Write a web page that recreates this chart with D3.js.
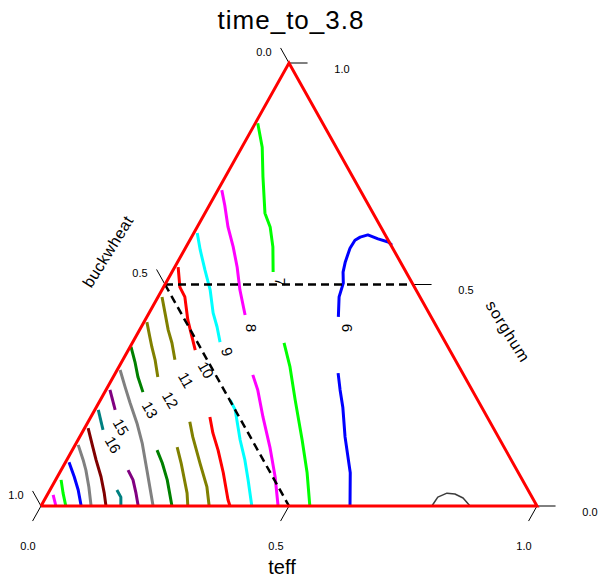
<!DOCTYPE html>
<html>
<head>
<meta charset="utf-8">
<script src="https://cdn.jsdelivr.net/npm/d3@7/dist/d3.min.js"></script>
<style>
  body { margin: 0; background: #fff; }
  text { font-family: "Liberation Sans", Arial, sans-serif; fill: #000; }
</style>
</head>
<body>
<svg id="chart" width="603" height="577"></svg>
<script>
// compositions are [teff, sorghum]; buckwheat = 1 - teff - sorghum
let axisTicks = [0, 0.5, 1];
let tickLabels = ["0.0", "0.5", "1.0"];

let contourColors = ["#3c3c3c", "#0000ff", "#00ff00", "#ff00ff", "#00ffff", "#ff0000",
  "#808000", "#808000", "#008000", "#808080", "#800080", "#008080", "#800000",
  "#808080", "#0000ff", "#00ff00", "#ff00ff"];

// each contour is a list of segments (gaps where labels sit)
let contourPaths = [
  [[[0.788, 0], [0.790, 0.020], [0.804, 0.029], [0.821, 0.027], [0.842, 0.018], [0.865, 0]]],
  [[[0.413, 0.589], [0.402, 0.596], [0.378, 0.603], [0.353, 0.612], [0.340, 0.607], [0.333, 0.600],
    [0.332, 0.582], [0.338, 0.551], [0.345, 0.528], [0.358, 0.503], [0.365, 0.472], [0.386, 0.427]],
   [[0.449, 0.300], [0.472, 0.262], [0.497, 0.223], [0.535, 0.156], [0.586, 0.075], [0.623, 0]]],
  [[[0.005, 0.864], [0.041, 0.810], [0.076, 0.743], [0.121, 0.661], [0.147, 0.630], [0.175, 0.585], [0.204, 0.528]],
   [[0.306, 0.368], [0.345, 0.314], [0.393, 0.239], [0.452, 0.149], [0.499, 0.075], [0.542, 0]]],
  [[[0.008, 0.713], [0.031, 0.679], [0.062, 0.630], [0.095, 0.585], [0.126, 0.539], [0.157, 0.488], [0.196, 0.431]],
   [[0.279, 0.296], [0.306, 0.262], [0.347, 0.201], [0.395, 0.133], [0.439, 0.066], [0.478, 0]]],
  [[[0.007, 0.616], [0.032, 0.578], [0.064, 0.533], [0.097, 0.488], [0.129, 0.436], [0.153, 0.404], [0.176, 0.370]],
   [[0.262, 0.239], [0.283, 0.217], [0.327, 0.149], [0.359, 0.104], [0.388, 0.059], [0.425, 0]]],
  [[[0.007, 0.539], [0.033, 0.494], [0.054, 0.472], [0.086, 0.420], [0.114, 0.381], [0.135, 0.352]],
   [[0.240, 0.201], [0.264, 0.165], [0.294, 0.126], [0.330, 0.075], [0.370, 0.014], [0.381, 0]]],
  [[[0.008, 0.472], [0.032, 0.436], [0.058, 0.397], [0.080, 0.368], [0.105, 0.330]],
   [[0.205, 0.190], [0.228, 0.156], [0.272, 0.097], [0.313, 0.043], [0.339, 0]]],
  [[[0.006, 0.415], [0.029, 0.381], [0.044, 0.359], [0.065, 0.330], [0.090, 0.291]],
   [[0.208, 0.133], [0.234, 0.097], [0.255, 0.066], [0.280, 0.029], [0.296, 0]]],
  [[[0.002, 0.359], [0.027, 0.325], [0.050, 0.291], [0.077, 0.257]],
   [[0.171, 0.126], [0.196, 0.097], [0.225, 0.059], [0.264, 0]]],
  [[[0.006, 0.307], [0.035, 0.269], [0.063, 0.233], [0.100, 0.187], [0.133, 0.142], [0.173, 0.081], [0.226, 0]]],
  [[[0.008, 0.262], [0.041, 0.217]],
   [[0.135, 0.081], [0.156, 0.059], [0.177, 0.029], [0.196, 0]]],
  [[[0.007, 0.217], [0.039, 0.172]],
   [[0.135, 0.036], [0.151, 0.020], [0.161, 0]]],
  [[[0.007, 0.176], [0.038, 0.133], [0.059, 0.104], [0.088, 0.066], [0.113, 0.029], [0.131, 0]]],
  [[[0.006, 0.138], [0.033, 0.104], [0.050, 0.081], [0.075, 0.043], [0.101, 0]]],
  [[[0.007, 0.099], [0.034, 0.066], [0.057, 0.036], [0.081, 0]]],
  [[[0.011, 0.059], [0.030, 0.029], [0.050, 0]]],
  [[[0.012, 0.025], [0.030, 0]]]
];

let labelValues = [6, 7, 8, 9, 10, 11, 12, 13, 15, 16];
let labelPoints = [[0.416, 0.402], [0.229, 0.506], [0.222, 0.402], [0.201, 0.348], [0.179, 0.307],
  [0.150, 0.284], [0.141, 0.239], [0.111, 0.217], [0.072, 0.178], [0.076, 0.138]];

let svg = d3.select("#chart");

let x = d3.scaleLinear().domain([0, 1]).range([41, 537]);
let y = d3.scaleLinear().domain([0, 1]).range([506, 63]);

// ternary -> plane
function px(d) { return x(d[0] + d[1] / 2); }
function py(d) { return y(d[1]); }
let line = d3.line().x(px).y(py);

// title
svg.append("text")
  .attr("x", x(0.5) + 2).attr("y", 29)
  .attr("text-anchor", "middle")
  .attr("font-size", 26)
  .attr("letter-spacing", 1)
  .text("time_to_3.8");

// contours
contourPaths.forEach(function (segs, i) {
  segs.forEach(function (seg) {
    svg.append("path")
      .attr("d", line(seg))
      .attr("fill", "none")
      .attr("stroke", contourColors[i])
      .attr("stroke-width", i === 0 ? 1.5 : 3)
      .attr("stroke-linejoin", "round");
  });
});

// contour labels
function labelAngle(v) { return v <= 8 ? 90 : (v === 9 ? 72 : 60); }
svg.append("g").selectAll("text")
  .data(labelValues)
  .join("text")
  .attr("transform", function (d, i) {
    let p = labelPoints[i];
    return "translate(" + px(p) + "," + py(p) + ") rotate(" + labelAngle(d) + ")";
  })
  .attr("text-anchor", "middle")
  .attr("dy", "0.35em")
  .attr("font-size", 15)
  .text(function (d) { return d; });

// dashed 0.5 guides: sorghum = 0.5 and buckwheat = 0.5
svg.append("path")
  .attr("d", line([[0, 0.5], [0.5, 0.5]]))
  .attr("stroke", "#000").attr("stroke-width", 2.5)
  .attr("stroke-dasharray", "8,5").attr("fill", "none");
svg.append("path")
  .attr("d", line([[0, 0.5], [0.5, 0]]))
  .attr("stroke", "#000").attr("stroke-width", 2.5)
  .attr("stroke-dasharray", "8,5").attr("fill", "none");

// ticks
let tickLen = 0.034;
let ticks = svg.append("g").attr("stroke", "#000").attr("stroke-width", 1);
axisTicks.forEach(function (v, i) {
  // teff along bottom
  let a = [v, 0];
  ticks.append("path").attr("d", line([a, [v, -tickLen]]));
  svg.append("text")
    .attr("x", px(a) - 13).attr("y", py(a) + 40)
    .attr("text-anchor", "middle").attr("dy", "0.35em")
    .attr("font-size", 11).text(tickLabels[i]);

  // sorghum along right side
  let b = [1 - v, v];
  ticks.append("path").attr("d", line([b, [1 - v + tickLen * 1.1, v]]));
  svg.append("text")
    .attr("x", px(b) + 53).attr("y", py(b) + 6)
    .attr("text-anchor", "middle").attr("dy", "0.35em")
    .attr("font-size", 11).text(tickLabels[i]);

  // buckwheat along left side (0 at top)
  let c = [0, 1 - v];
  ticks.append("path").attr("d", line([c, [-tickLen, 1 - v + tickLen]]));
  svg.append("text")
    .attr("x", px(c) - 25).attr("y", py(c) - 11)
    .attr("text-anchor", "middle").attr("dy", "0.35em")
    .attr("font-size", 11).text(tickLabels[i]);
});

// triangle frame
svg.append("path")
  .attr("d", line([[0, 0], [1, 0], [0, 1], [0, 0]]))
  .attr("fill", "none")
  .attr("stroke", "#ff0000")
  .attr("stroke-width", 3)
  .attr("stroke-linejoin", "miter");

// axis titles
svg.append("text")
  .attr("x", x(0.5) - 7).attr("y", y(0) + 61)
  .attr("text-anchor", "middle").attr("dy", "0.35em")
  .attr("font-size", 20).text("teff");

let lm = [0, 0.5], rm = [0.5, 0.5];
svg.append("text")
  .attr("transform", "translate(" + (px(lm) - 57) + "," + (py(lm) - 33) + ") rotate(-58)")
  .attr("text-anchor", "middle").attr("dy", "0.35em")
  .attr("font-size", 16).attr("letter-spacing", 0.5).text("buckwheat");
svg.append("text")
  .attr("transform", "translate(" + (px(rm) + 95) + "," + (py(rm) + 47) + ") rotate(58)")
  .attr("text-anchor", "middle").attr("dy", "0.35em")
  .attr("font-size", 16).attr("letter-spacing", 1).text("sorghum");
</script>
</body>
</html>
